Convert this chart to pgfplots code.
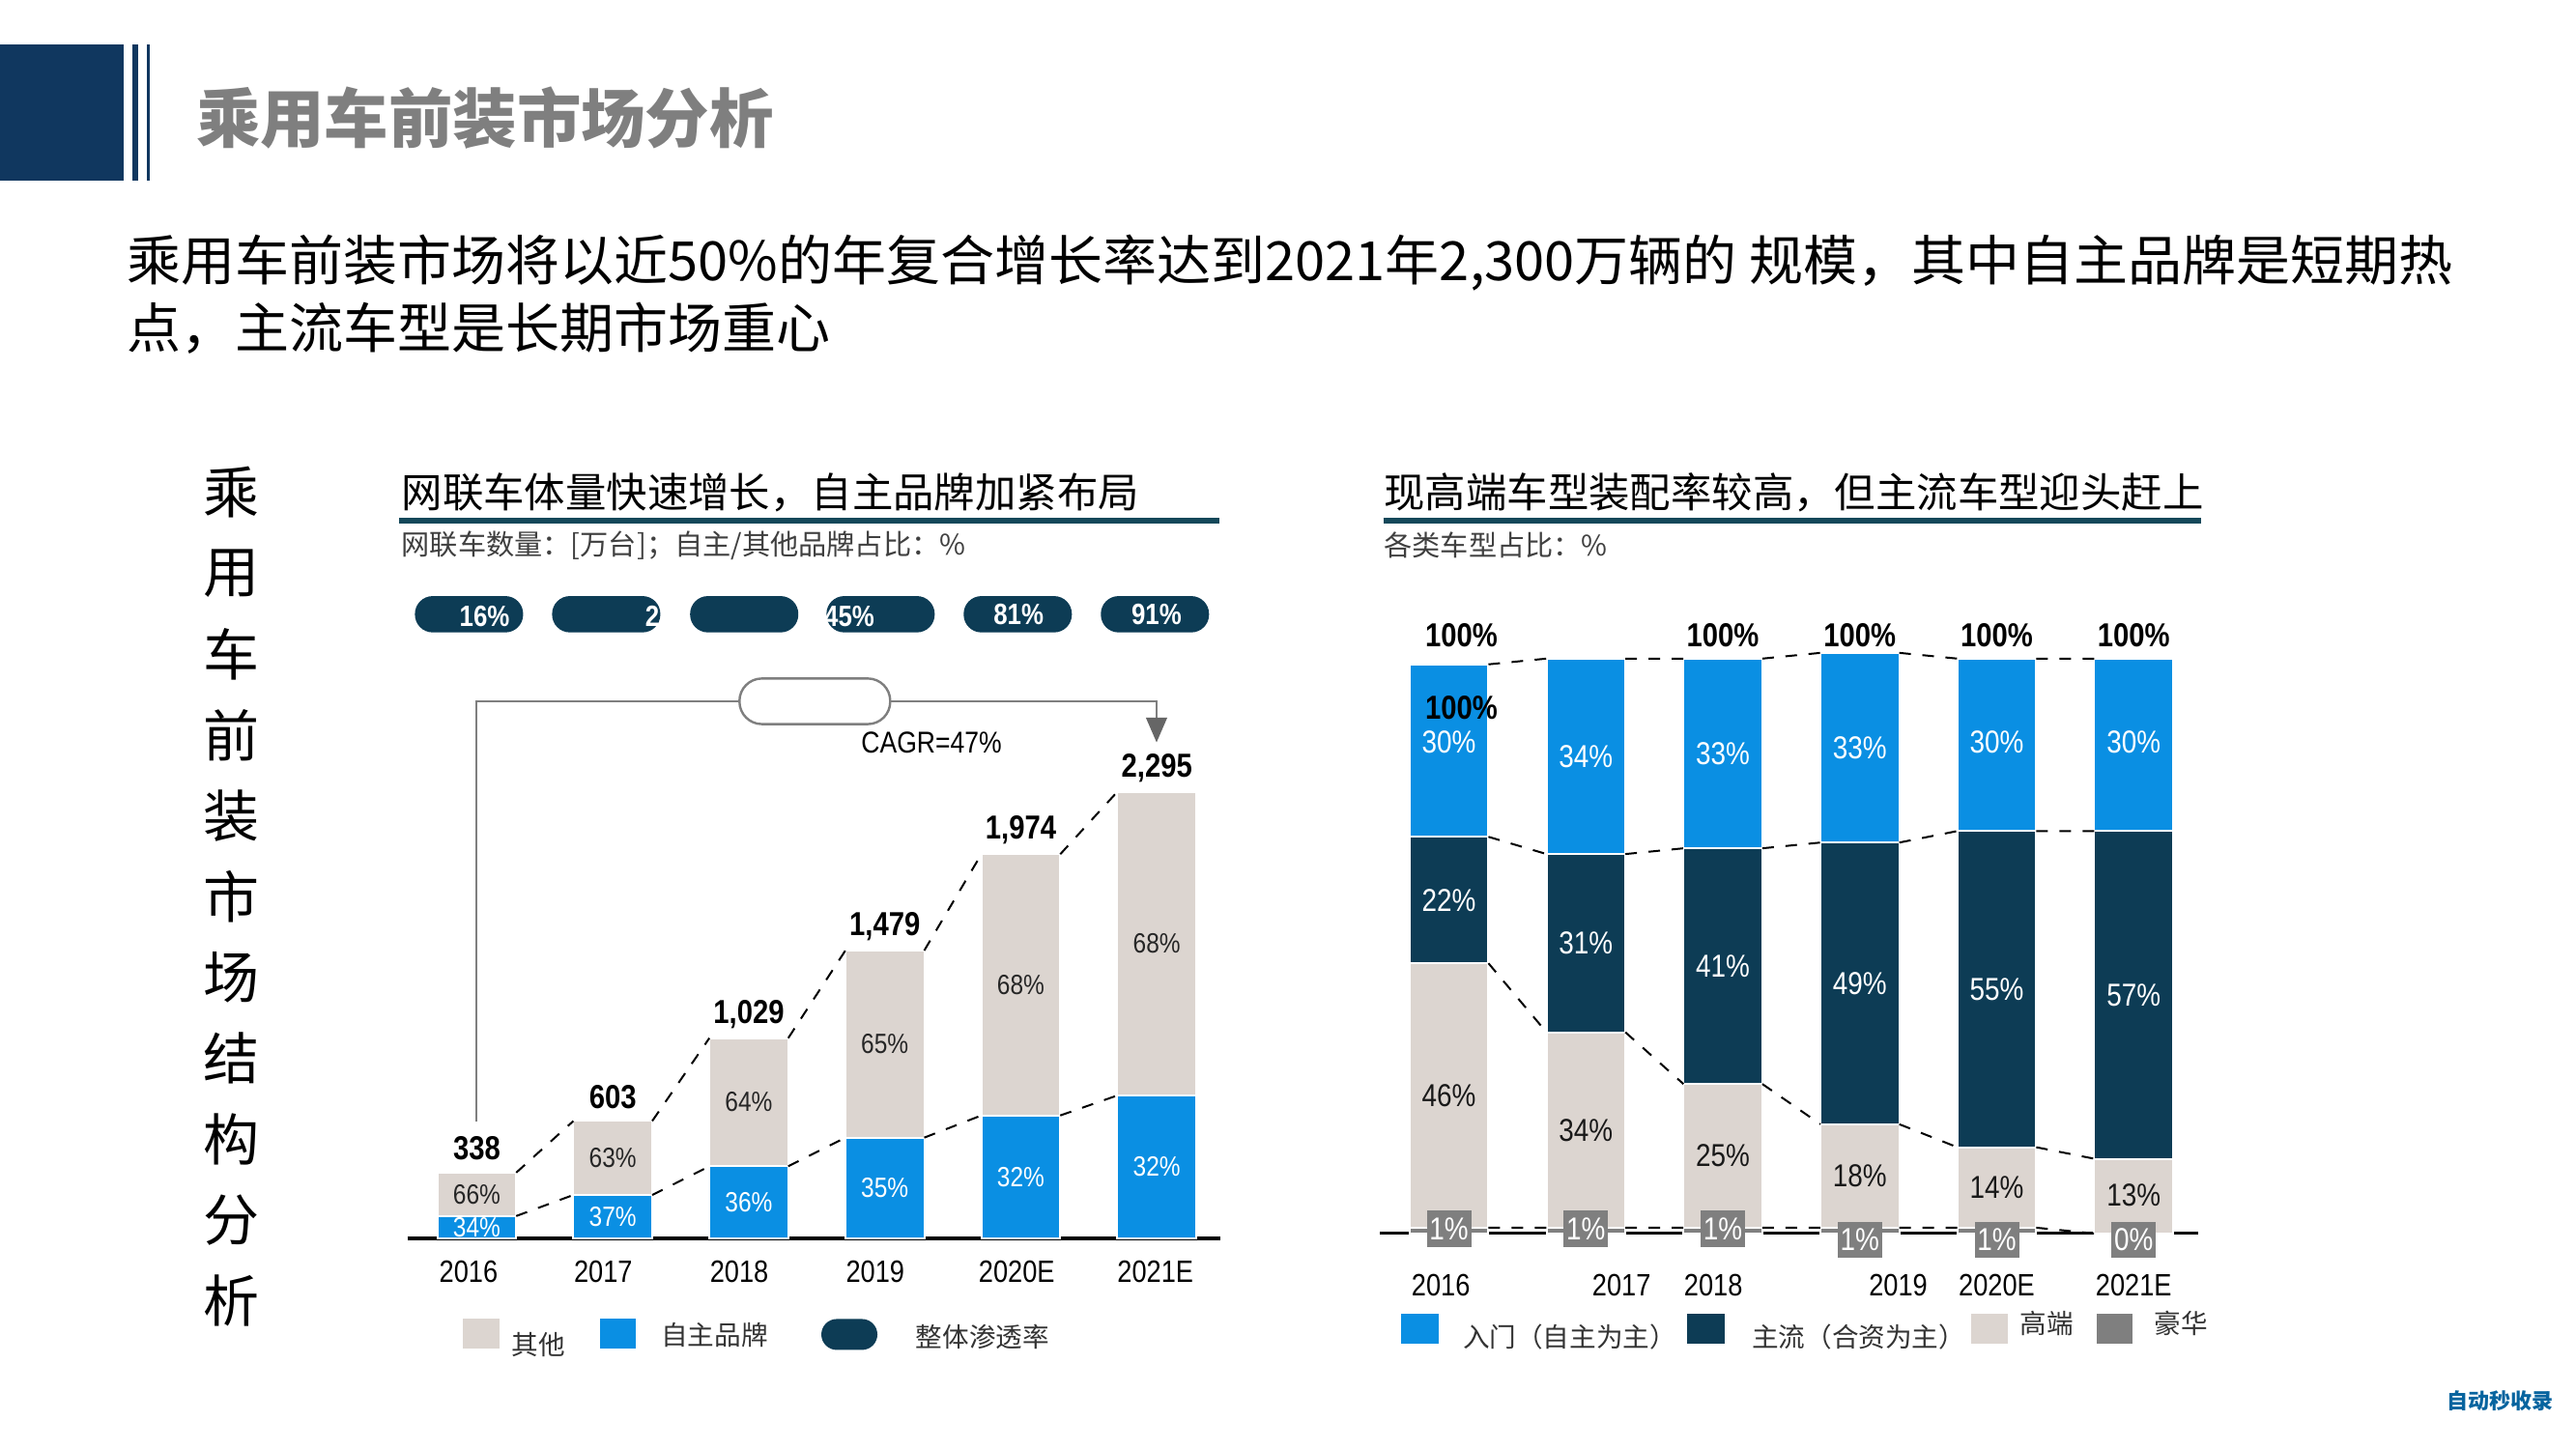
\documentclass[border=0pt]{standalone}
\usepackage{pgfplots}
\pgfplotsset{compat=1.18}
\usepackage{fontspec}
\setmainfont{Liberation Sans}
\newfontfamily\cjk{Noto Sans CJK SC}
\newfontfamily\narrow{Liberation Sans}[FakeStretch=0.85]
\usetikzlibrary{arrows.meta}
\definecolor{navy}{HTML}{10375F}
\definecolor{ttlgray}{HTML}{7F7F7F}
\definecolor{cteal}{HTML}{14485A}
\definecolor{pill}{HTML}{0D3C55}
\definecolor{cblue}{HTML}{0A8FE3}
\definecolor{beige}{HTML}{DCD5D0}
\definecolor{lux}{HTML}{7F7F7F}
\definecolor{linegray}{HTML}{7F7F7F}
\newcommand{\fs}[1]{\fontsize{#1}{#1}\selectfont}
\pgfplotsset{
  leftax/.style={at={(105.4pt,54.4pt)}, anchor=south west, scale only axis,
    width=210.4pt, height=125.9pt, xmin=-0.51, xmax=5.47, ymin=0, ymax=2500, clip=false},
  rightax/.style={at={(357pt,55.675pt)}, anchor=south west, scale only axis,
    width=211.65pt, height=148.75pt, xmin=-0.504, xmax=5.47, ymin=0, ymax=100, clip=false},
}
\tikzset{
  lbl/.style={inner sep=0pt, font=\narrow\fs{7.2}},
  rlbl/.style={inner sep=0pt, font=\narrow\fs{8.2}},
}
\begin{document}
\begin{tikzpicture}[x=0.425pt,y=0.425pt]
\path[use as bounding box] (0,0) rectangle (1568,882);
\fill[white] (0,0) rectangle (1568,882);
% ---------- header ----------
\fill[navy] (0,882-27) rectangle (75,882-110);
\fill[navy] (80.5,882-27) rectangle (84.2,882-110);
\fill[navy] (89.2,882-27) rectangle (91.2,882-110);
\node[anchor=west, inner sep=0, text=ttlgray, font=\cjk\bfseries\fs{16.6}] at (119,882-72) {乘用车前装市场分析};
\node[anchor=west, inner sep=0, font=\cjk\fs{14}] at (77,882-160) {乘用车前装市场将以近50\%的年复合增长率达到2021年2,300万辆的 规模，其中自主品牌是短期热};
\node[anchor=west, inner sep=0, font=\cjk\fs{14}] at (77,882-200) {点，主流车型是长期市场重心};
% vertical text
\foreach \c [count=\i from 0] in {乘,用,车,前,装,市,场,结,构,分,析}
  \node[inner sep=0, font=\cjk\fs{14.5}] at (141,882-300-49.2*\i) {\c};
% ---------- chart titles ----------
\node[anchor=west, inner sep=0, font=\cjk\fs{10.6}] at (244,882-300) {网联车体量快速增长，自主品牌加紧布局};
\draw[cteal, line width=1.3pt] (243,882-317) -- (742,882-317);
\node[anchor=west, inner sep=0, text=black!75, font=\cjk\fs{7.3}] at (244,882-332) {网联车数量：[万台]；自主/其他品牌占比：\%};
\node[anchor=west, inner sep=0, font=\cjk\fs{10.6}] at (842,882-300) {现高端车型装配率较高，但主流车型迎头赶上};
\draw[cteal, line width=1.3pt] (842,882-317) -- (1340,882-317);
\node[anchor=west, inner sep=0, text=black!75, font=\cjk\fs{7.3}] at (842,882-332) {各类车型占比：\%};

% ---------- left chart: bars ----------
\begin{axis}[leftax, ybar stacked, bar width=20.4pt,
  axis x line=bottom, axis y line=none, x axis line style={-, line width=0.8pt, black},
  xtick={-0.06,0.93,1.93,2.93,3.97,4.99},
  xticklabels={2016,2017,2018,2019,2020E,2021E},
  major tick length=0pt,
  xticklabel style={anchor=north, inner sep=0pt, font=\narrow\fs{8}},
  xticklabel shift=5.6pt]
\addplot[fill=cblue, draw=white, line width=0.5pt] coordinates {(0,114.9) (1,223.1) (2,370.4) (3,517.7) (4,631.7) (5,734.4)};
\addplot[fill=beige, draw=white, line width=0.5pt] coordinates {(0,223.1) (1,379.9) (2,658.6) (3,961.3) (4,1342.3) (5,1560.6)};
\end{axis}
% ---------- left chart: connectors and labels ----------
\begin{axis}[leftax, axis lines=none]
\addplot[black, dashed, line width=0.5pt, unbounded coords=jump] coordinates {
 (0.29,338) (0.71,603) (1,nan) (1.29,603) (1.71,1029) (2,nan) (2.29,1029) (2.71,1479) (3,nan)
 (3.29,1479) (3.71,1974) (4,nan) (4.29,1974) (4.71,2295)};
\addplot[black, dashed, line width=0.5pt, unbounded coords=jump] coordinates {
 (0.29,114.9) (0.71,223.1) (1,nan) (1.29,223.1) (1.71,370.4) (2,nan) (2.29,370.4) (2.71,517.7) (3,nan)
 (3.29,517.7) (3.71,631.7) (4,nan) (4.29,631.7) (4.71,734.4)};
% totals
\node[inner sep=0, font=\narrow\bfseries\fs{8.6}] at (axis cs:0,338) [yshift=6.2pt] {338};
\node[inner sep=0, font=\narrow\bfseries\fs{8.6}] at (axis cs:1,603) [yshift=6.2pt] {603};
\node[inner sep=0, font=\narrow\bfseries\fs{8.6}] at (axis cs:2,1029) [yshift=6.2pt] {1,029};
\node[inner sep=0, font=\narrow\bfseries\fs{8.6}] at (axis cs:3,1479) [yshift=6.2pt] {1,479};
\node[inner sep=0, font=\narrow\bfseries\fs{8.6}] at (axis cs:4,1974) [yshift=6.2pt] {1,974};
\node[inner sep=0, font=\narrow\bfseries\fs{8.6}] at (axis cs:5,2295) [yshift=6.2pt] {2,295};
% blue share
\node[lbl, text=white] at (axis cs:0,57.5) {34\%};
\node[lbl, text=white] at (axis cs:1,111.6) {37\%};
\node[lbl, text=white] at (axis cs:2,185.2) {36\%};
\node[lbl, text=white] at (axis cs:3,258.9) {35\%};
\node[lbl, text=white] at (axis cs:4,315.9) {32\%};
\node[lbl, text=white] at (axis cs:5,367.2) {32\%};
% other share
\node[lbl, text=black!85] at (axis cs:0,226.5) {66\%};
\node[lbl, text=black!85] at (axis cs:1,413.1) {63\%};
\node[lbl, text=black!85] at (axis cs:2,699.7) {64\%};
\node[lbl, text=black!85] at (axis cs:3,998.4) {65\%};
\node[lbl, text=black!85] at (axis cs:4,1302.9) {68\%};
\node[lbl, text=black!85] at (axis cs:5,1514.7) {68\%};
\end{axis}
% penetration pills
\foreach \px in {285.5,369,453,536,619.5,703}
  \node[fill=pill, rounded corners=4.6pt, minimum width=28pt, minimum height=9.4pt, inner sep=0] at (\px,882-374) {};
\node[inner sep=0, text=white, font=\narrow\bfseries\fs{7.6}] at (295,882-375) {16\%};
\node[inner sep=0, text=white, font=\narrow\bfseries\fs{7.6}] at (397,882-375) {2};
\node[inner sep=0, text=white, font=\narrow\bfseries\fs{7.6}] at (517,882-375) {45\%};
\node[inner sep=0, text=white, font=\narrow\bfseries\fs{7.6}] at (620,882-374) {81\%};
\node[inner sep=0, text=white, font=\narrow\bfseries\fs{7.6}] at (704,882-374) {91\%};
% CAGR bracket
\draw[linegray, line width=0.6pt] (290,882-683) -- (290,882-427) -- (704,882-427) -- (704,882-438);
\fill[black!60] (697.5,882-437) -- (710.5,882-437) -- (704,882-452) -- cycle;
\node[draw=linegray, fill=white, line width=0.6pt, rounded corners=5.8pt, minimum width=39pt, minimum height=11.8pt, inner sep=0] at (496,882-427) {};
\node[inner sep=0, font=\narrow\fs{7.8}] at (567,882-452) {CAGR=47\%};
% left legend
\fill[beige] (282,882-803) rectangle (304,882-821);
\node[anchor=west, inner sep=0, text=black!80, font=\cjk\fs{6.9}] at (311,882-819) {其他};
\fill[cblue] (365,882-803) rectangle (387,882-821);
\node[anchor=west, inner sep=0, text=black!80, font=\cjk\fs{6.9}] at (402,882-813) {自主品牌};
\node[fill=pill, rounded corners=4pt, minimum width=14.5pt, minimum height=8pt, inner sep=0] at (517,882-812.5) {};
\node[anchor=west, inner sep=0, text=black!80, font=\cjk\fs{6.9}] at (557,882-814) {整体渗透率};

% ---------- right chart: bars ----------
\begin{axis}[rightax, ybar stacked, bar width=20.4pt,
  axis x line=bottom, axis y line=none, x axis line style={-, line width=0.8pt, black},
  xtick={-0.06,1.26,1.93,3.28,4.0,5.0},
  xticklabels={2016,2017,2018,2019,2020E,2021E},
  major tick length=0pt,
  xticklabel style={anchor=north, inner sep=0pt, font=\narrow\fs{8}},
  xticklabel shift=10.3pt]
\addplot[fill=lux, draw=white, line width=0.5pt] coordinates {(0,1) (1,1) (2,1) (3,1) (4,1) (5,0)};
\addplot[fill=beige, draw=white, line width=0.5pt] coordinates {(0,46) (1,34) (2,25) (3,18) (4,14) (5,13)};
\addplot[fill=pill, draw=white, line width=0.5pt] coordinates {(0,22) (1,31) (2,41) (3,49) (4,55) (5,57)};
\addplot[fill=cblue, draw=white, line width=0.5pt] coordinates {(0,30) (1,34) (2,33) (3,33) (4,30) (5,30)};
\end{axis}
% ---------- right chart: connectors and labels ----------
\begin{axis}[rightax, axis lines=none]
\addplot[black, dashed, line width=0.5pt, unbounded coords=jump] coordinates {
 (0.288,99) (0.712,100) (1,nan) (1.288,100) (1.712,100) (2,nan) (2.288,100) (2.712,101) (3,nan)
 (3.288,101) (3.712,100) (4,nan) (4.288,100) (4.712,100)};
\addplot[black, dashed, line width=0.5pt, unbounded coords=jump] coordinates {
 (0.288,69) (0.712,66) (1,nan) (1.288,66) (1.712,67) (2,nan) (2.288,67) (2.712,68) (3,nan)
 (3.288,68) (3.712,70) (4,nan) (4.288,70) (4.712,70)};
\addplot[black, dashed, line width=0.5pt, unbounded coords=jump] coordinates {
 (0.288,47) (0.712,35) (1,nan) (1.288,35) (1.712,26) (2,nan) (2.288,26) (2.712,19) (3,nan)
 (3.288,19) (3.712,15) (4,nan) (4.288,15) (4.712,13)};
\addplot[black, dashed, line width=0.5pt, unbounded coords=jump] coordinates {
 (0.288,1) (0.712,1) (1,nan) (1.288,1) (1.712,1) (2,nan) (2.288,1) (2.712,1) (3,nan)
 (3.288,1) (3.712,1) (4,nan) (4.288,1) (4.712,0)};
% 100% labels
\node[inner sep=0, font=\narrow\bfseries\fs{8.6}] at (axis cs:0.09,100) [yshift=6pt] {100\%};
\node[inner sep=0, font=\narrow\bfseries\fs{8.6}] at (axis cs:2,100) [yshift=6pt] {100\%};
\node[inner sep=0, font=\narrow\bfseries\fs{8.6}] at (axis cs:3,100) [yshift=6pt] {100\%};
\node[inner sep=0, font=\narrow\bfseries\fs{8.6}] at (axis cs:4,100) [yshift=6pt] {100\%};
\node[inner sep=0, font=\narrow\bfseries\fs{8.6}] at (axis cs:5,100) [yshift=6pt] {100\%};
\node[inner sep=0, font=\narrow\bfseries\fs{8.6}] at (axis cs:0.09,91.4) {100\%};
% entry share
\node[rlbl, text=white] at (axis cs:0,85.5) {30\%};
\node[rlbl, text=white] at (axis cs:1,83) {34\%};
\node[rlbl, text=white] at (axis cs:2,83.5) {33\%};
\node[rlbl, text=white] at (axis cs:3,84.5) {33\%};
\node[rlbl, text=white] at (axis cs:4,85.5) {30\%};
\node[rlbl, text=white] at (axis cs:5,85.5) {30\%};
% mainstream share
\node[rlbl, text=white] at (axis cs:0,58) {22\%};
\node[rlbl, text=white] at (axis cs:1,50.5) {31\%};
\node[rlbl, text=white] at (axis cs:2,46.5) {41\%};
\node[rlbl, text=white] at (axis cs:3,43.5) {49\%};
\node[rlbl, text=white] at (axis cs:4,42.5) {55\%};
\node[rlbl, text=white] at (axis cs:5,41.5) {57\%};
% high-end share
\node[rlbl, text=black!90] at (axis cs:0,24) {46\%};
\node[rlbl, text=black!90] at (axis cs:1,18) {34\%};
\node[rlbl, text=black!90] at (axis cs:2,13.5) {25\%};
\node[rlbl, text=black!90] at (axis cs:3,10) {18\%};
\node[rlbl, text=black!90] at (axis cs:4,8) {14\%};
\node[rlbl, text=black!90] at (axis cs:5,6.6) {13\%};
% luxury share
\node[rlbl, fill=lux, text=white, minimum width=11.5pt, minimum height=9.4pt] at (axis cs:0,0) [yshift=1.2pt] {1\%};
\node[rlbl, fill=lux, text=white, minimum width=11.5pt, minimum height=9.4pt] at (axis cs:1,0) [yshift=1.2pt] {1\%};
\node[rlbl, fill=lux, text=white, minimum width=11.5pt, minimum height=9.4pt] at (axis cs:2,0) [yshift=1.2pt] {1\%};
\node[rlbl, fill=lux, text=white, minimum width=11.5pt, minimum height=9.4pt] at (axis cs:3,0) [yshift=-1.7pt] {1\%};
\node[rlbl, fill=lux, text=white, minimum width=11.5pt, minimum height=9.4pt] at (axis cs:4,0) [yshift=-1.7pt] {1\%};
\node[rlbl, fill=lux, text=white, minimum width=11.5pt, minimum height=9.4pt] at (axis cs:5,0) [yshift=-1.7pt] {0\%};
\end{axis}
% right legend
\fill[cblue] (853,882-800) rectangle (876,882-818);
\node[anchor=west, inner sep=0, text=black!80, font=\cjk\fs{6.9}] at (890,882-814) {入门（自主为主）};
\fill[pill] (1027,882-800) rectangle (1050,882-818);
\node[anchor=west, inner sep=0, text=black!80, font=\cjk\fs{6.9}] at (1066,882-814) {主流（合资为主）};
\fill[beige] (1200,882-800) rectangle (1222,882-818);
\node[anchor=west, inner sep=0, text=black!80, font=\cjk\fs{6.9}] at (1229,882-806) {高端};
\fill[lux] (1276,882-800) rectangle (1298,882-818);
\node[anchor=west, inner sep=0, text=black!80, font=\cjk\fs{6.9}] at (1311,882-806) {豪华};
% watermark
\node[inner sep=0, text=cblue!70!black, font=\cjk\bfseries\fs{5.5}] at (1522,882-853) {自动秒收录};
\end{tikzpicture}
\end{document}
